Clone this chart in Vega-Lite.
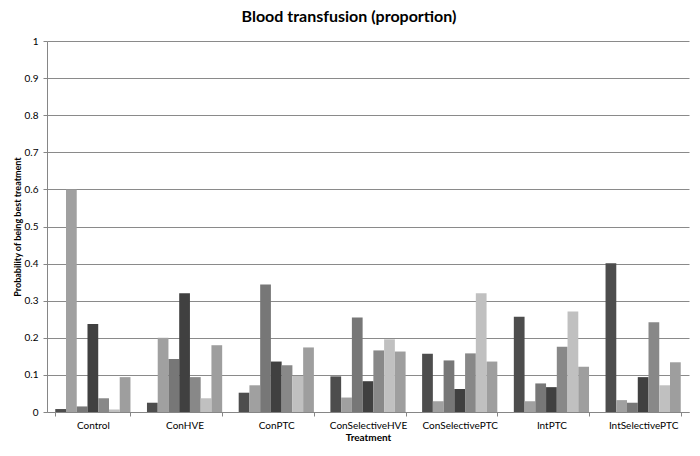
{
  "$schema": "https://vega.github.io/schema/vega-lite/v6.json",
  "autosize": "none",
  "width": 642,
  "height": 371,
  "padding": {"left": 47, "top": 41, "right": 11, "bottom": 44},
  "background": "white",
  "title": {
    "text": "Blood transfusion (proportion)",
    "font": "Lato",
    "fontSize": 16,
    "fontWeight": "bold",
    "color": "#000000",
    "anchor": "middle",
    "dx": -19,
    "offset": 11
  },
  "data": {
    "values": [
      {"treatment": "Control", "rank": 1, "value": 0.008},
      {"treatment": "Control", "rank": 2, "value": 0.6},
      {"treatment": "Control", "rank": 3, "value": 0.015},
      {"treatment": "Control", "rank": 4, "value": 0.237},
      {"treatment": "Control", "rank": 5, "value": 0.037},
      {"treatment": "Control", "rank": 6, "value": 0.007},
      {"treatment": "Control", "rank": 7, "value": 0.094},
      {"treatment": "ConHVE", "rank": 1, "value": 0.025},
      {"treatment": "ConHVE", "rank": 2, "value": 0.2},
      {"treatment": "ConHVE", "rank": 3, "value": 0.143},
      {"treatment": "ConHVE", "rank": 4, "value": 0.32},
      {"treatment": "ConHVE", "rank": 5, "value": 0.094},
      {"treatment": "ConHVE", "rank": 6, "value": 0.037},
      {"treatment": "ConHVE", "rank": 7, "value": 0.18},
      {"treatment": "ConPTC", "rank": 1, "value": 0.052},
      {"treatment": "ConPTC", "rank": 2, "value": 0.072},
      {"treatment": "ConPTC", "rank": 3, "value": 0.344},
      {"treatment": "ConPTC", "rank": 4, "value": 0.136},
      {"treatment": "ConPTC", "rank": 5, "value": 0.126},
      {"treatment": "ConPTC", "rank": 6, "value": 0.097},
      {"treatment": "ConPTC", "rank": 7, "value": 0.174},
      {"treatment": "ConSelectiveHVE", "rank": 1, "value": 0.096},
      {"treatment": "ConSelectiveHVE", "rank": 2, "value": 0.039},
      {"treatment": "ConSelectiveHVE", "rank": 3, "value": 0.255},
      {"treatment": "ConSelectiveHVE", "rank": 4, "value": 0.083},
      {"treatment": "ConSelectiveHVE", "rank": 5, "value": 0.166},
      {"treatment": "ConSelectiveHVE", "rank": 6, "value": 0.196},
      {"treatment": "ConSelectiveHVE", "rank": 7, "value": 0.163},
      {"treatment": "ConSelectivePTC", "rank": 1, "value": 0.157},
      {"treatment": "ConSelectivePTC", "rank": 2, "value": 0.029},
      {"treatment": "ConSelectivePTC", "rank": 3, "value": 0.139},
      {"treatment": "ConSelectivePTC", "rank": 4, "value": 0.062},
      {"treatment": "ConSelectivePTC", "rank": 5, "value": 0.158},
      {"treatment": "ConSelectivePTC", "rank": 6, "value": 0.32},
      {"treatment": "ConSelectivePTC", "rank": 7, "value": 0.136},
      {"treatment": "IntPTC", "rank": 1, "value": 0.257},
      {"treatment": "IntPTC", "rank": 2, "value": 0.029},
      {"treatment": "IntPTC", "rank": 3, "value": 0.077},
      {"treatment": "IntPTC", "rank": 4, "value": 0.067},
      {"treatment": "IntPTC", "rank": 5, "value": 0.176},
      {"treatment": "IntPTC", "rank": 6, "value": 0.271},
      {"treatment": "IntPTC", "rank": 7, "value": 0.122},
      {"treatment": "IntSelectivePTC", "rank": 1, "value": 0.401},
      {"treatment": "IntSelectivePTC", "rank": 2, "value": 0.032},
      {"treatment": "IntSelectivePTC", "rank": 3, "value": 0.025},
      {"treatment": "IntSelectivePTC", "rank": 4, "value": 0.094},
      {"treatment": "IntSelectivePTC", "rank": 5, "value": 0.242},
      {"treatment": "IntSelectivePTC", "rank": 6, "value": 0.072},
      {"treatment": "IntSelectivePTC", "rank": 7, "value": 0.134}
    ]
  },
  "mark": {"type": "bar"},
  "encoding": {
    "x": {
      "field": "treatment",
      "type": "nominal",
      "sort": null,
      "scale": {"paddingInner": 0.18, "paddingOuter": 0.09},
      "axis": {
        "title": "Treatment",
        "titleFont": "Lato",
        "titleFontSize": 10,
        "titleFontWeight": "bold",
        "titleColor": "#000000",
        "titlePadding": 2,
        "labelAngle": 0,
        "labelFont": "Lato",
        "labelFontSize": 10,
        "labelColor": "#000000",
        "labelPadding": 4,
        "tickBand": "extent",
        "tickColor": "#868686",
        "tickSize": 4,
        "domainColor": "#868686",
        "grid": false
      }
    },
    "xOffset": {
      "field": "rank",
      "type": "nominal",
      "scale": {"paddingInner": 0, "paddingOuter": 0}
    },
    "y": {
      "field": "value",
      "type": "quantitative",
      "scale": {"domain": [0, 1], "nice": false},
      "axis": {
        "title": "Probability of being best treatment",
        "titleFont": "Lato",
        "titleFontSize": 9,
        "titleFontWeight": "bold",
        "titleColor": "#000000",
        "titlePadding": 2,
        "values": [0, 0.1, 0.2, 0.3, 0.4, 0.5, 0.6, 0.7, 0.8, 0.9, 1],
        "format": ".1~f",
        "labelFont": "Lato",
        "labelFontSize": 10,
        "labelColor": "#000000",
        "labelPadding": 5,
        "tickColor": "#868686",
        "tickSize": 4,
        "domainColor": "#868686",
        "gridColor": "#8a8a8a",
        "gridWidth": 1
      }
    },
    "color": {
      "field": "rank",
      "type": "nominal",
      "legend": null,
      "scale": {"range": ["#4d4d4d", "#a0a0a0", "#777777", "#404040", "#888888", "#c0c0c0", "#9e9e9e"]}
    }
  },
  "config": {
    "view": {"stroke": null},
    "axis": {"labelFont": "Lato"}
  }
}
